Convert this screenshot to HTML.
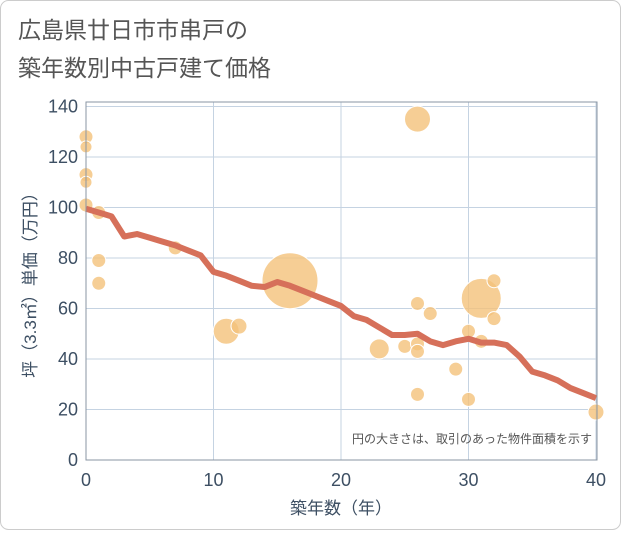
<!DOCTYPE html>
<html><head><meta charset="utf-8"><style>
body{margin:0;background:#fff;}
svg text{font-family:"Liberation Sans","Noto Sans CJK JP",sans-serif;}
</style></head><body>
<svg width="621" height="530">
<rect x="0.5" y="0.5" width="620" height="529" rx="8" fill="#fff" stroke="#ccc"/>
<text x="18" y="38" font-size="23" fill="#555">広島県廿日市市串戸の</text>
<text x="18" y="76" font-size="23" fill="#555">築年数別中古戸建て価格</text>
<g id="grid"></g>
<g id="bubbles"></g>
<g id="line"></g>
<rect x="86" y="102" width="511" height="358" fill="none" stroke="#8a96a3"/>
<g id="ticks"></g>
<text x="592" y="443" font-size="12" fill="#555" text-anchor="end">円の大きさは、取引のあった物件面積を示す</text>
<text x="341" y="514" font-size="17" fill="#3d4f63" text-anchor="middle">築年数（年）</text>
<text transform="translate(36,281) rotate(-90)" font-size="17" fill="#3d4f63" text-anchor="middle">坪（3.3㎡）単価（万円）</text>
</svg>
<script>
const xTicks=[0,10,20,30,40];
const yTicks=[0,20,40,60,80,100,120,140];
const lineYears=[0,1,2,3,4,5,6,7,8,9,10,11,12,13,14,15,16,17,18,19,20,21,22,23,24,25,26,27,28,29,30,31,32,33,34,35,36,37,38,39,40];
const lineValues=[99.5,98,96.5,88.5,89.5,88,86.5,85,83,81,74.5,73,71,69,68.5,70.5,69,67,65,63,61,57,55.5,52.5,49.5,49.5,50,47,45.5,47,48,46.5,46.5,45.5,41,35,33.5,31.5,28.5,26.5,24.5];
const bubbleX=[0,0,0,0,0,1,1,1,7,11,12,16,23,25,26,26,26,26,26,27,29,30,30,31,31,32,32,40];
const bubbleY=[128,124,113,110,101,98,79,70,84,51,53,71,44,45,135,62,46,43,26,58,36,51,24,64,47,71,56,19];
const bubbleR=[7,6,7,6,7,7,7,7,7,13,8,28,10,7,13,7,7,7,7,7,7,7,7,20,7,7,7,8];
const X=v=>86+v*12.75, Y=v=>460-v*2.525;
const NS='http://www.w3.org/2000/svg';
function mk(t,a,p){const e=document.createElementNS(NS,t);for(const k in a)e.setAttribute(k,a[k]);p.appendChild(e);return e;}
const g=document.getElementById('grid'),tk=document.getElementById('ticks');
xTicks.forEach(v=>{const l=mk('line',{x1:X(v),x2:X(v),y1:102,y2:460,stroke:'#c5d3e2'},g);


const t=mk('text',{x:X(v),y:486,'font-size':18,fill:'#3d4f63','text-anchor':'middle'},tk);t.textContent=v;

});
yTicks.forEach(v=>{const l=mk('line',{x1:86,x2:597,y1:Y(v),y2:Y(v),stroke:'#c5d3e2'},g);


const t=mk('text',{x:78,y:Y(v)+6,'font-size':18,fill:'#3d4f63','text-anchor':'end'},tk);t.textContent=v;

});
const b=document.getElementById('bubbles');
bubbleX.forEach((v,i)=>{const c=mk('circle',{cx:X(v),cy:Y(bubbleY[i]),r:bubbleR[i],fill:'#f4c27a','fill-opacity':0.8,stroke:'#fff','stroke-width':1},b);

});
const pts=lineYears.map((v,i)=>X(v)+','+Y(lineValues[i])).join(' ');
const pl=mk('polyline',{points:pts,fill:'none',stroke:'#d6705a','stroke-width':6,'stroke-linejoin':'round'},document.getElementById('line'));


</script>
</body></html>
